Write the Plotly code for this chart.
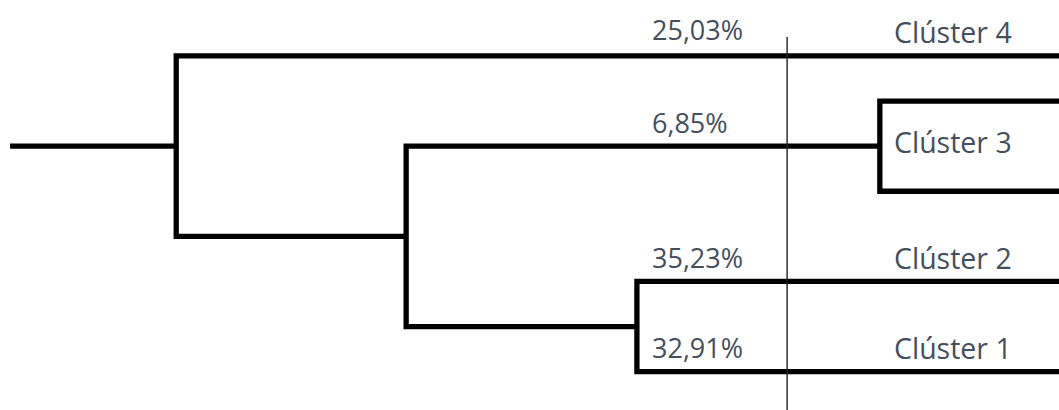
import plotly.graph_objects as go

# ---- data -------------------------------------------------------------
clusters = ["Clúster 4", "Clúster 3", "Clúster 2", "Clúster 1"]
shares = ["25,03%", "6,85%", "35,23%", "32,91%"]

# leaf rows (top -> bottom); Clúster 3 is shown as two sub-branches
leaf_names = ["c4", "c3a", "c3b", "c2", "c1"]
leaf_rows = [0, 1, 3, 5, 7]

# merges: (left child, right child, new node, rescaled distance)
merge_a = ["c3a", "c2", "c3", "c4"]
merge_b = ["c3b", "c1", "c12", "c312"]
merge_new = ["c3", "c12", "c312", "root"]
merge_dist = [4.27, 10.06, 15.56, 21.04]
root_stub_dist = 25.0
cut_dist = 6.48

# ---- build dendrogram segments ---------------------------------------
nodes = {n: (r, 0.0) for n, r in zip(leaf_names, leaf_rows)}
xs, ys = [], []
for a, b, new, d in zip(merge_a, merge_b, merge_new, merge_dist):
    ra, da = nodes[a]
    rb, db = nodes[b]
    xs += [da, d, d, db, None]
    ys += [ra, ra, rb, rb, None]
    nodes[new] = ((ra + rb) / 2, d)
rr, rd = nodes["root"]
xs += [rd, root_stub_dist, None]
ys += [rr, rr, None]

fig = go.Figure()
fig.add_trace(go.Scatter(
    x=xs, y=ys, mode="lines",
    line=dict(color="black", width=5.3),
    hoverinfo="skip", showlegend=False, cliponaxis=False,
))
fig.add_trace(go.Scatter(
    x=[cut_dist, cut_dist], y=[-0.42, 8.2], mode="lines",
    line=dict(color="#222222", width=1.4),
    hoverinfo="skip", showlegend=False,
))

share_font = dict(family="Open Sans", size=27, color="#454F5B")
label_font = dict(family="Open Sans", size=28.5, color="#454F5B")
share_rows = [nodes["c4"][0] - 0.58, nodes["c3"][0] - 0.53,
              nodes["c2"][0] - 0.53, nodes["c1"][0] - 0.53]
for s, r in zip(shares, share_rows):
    fig.add_annotation(x=9.75, y=r, text=s, showarrow=False,
                       xanchor="left", yanchor="middle", font=share_font)
label_rows = [nodes["c4"][0] - 0.54, nodes["c3"][0] - 0.09,
              nodes["c2"][0] - 0.53, nodes["c1"][0] - 0.53]
for c, r in zip(clusters, label_rows):
    fig.add_annotation(x=3.98, y=r, text=c, showarrow=False,
                       xanchor="left", yanchor="middle", font=label_font)

fig.update_layout(
    width=1059, height=410,
    margin=dict(l=0, r=0, t=0, b=0),
    paper_bgcolor="white", plot_bgcolor="white",
    xaxis=dict(range=[25.24, 0], visible=False, fixedrange=True),
    yaxis=dict(range=[7.85, -1.24], visible=False, fixedrange=True),
)

fig.write_html("out.html", config={"displayModeBar": False},
               post_script="document.body.style.margin='0';")
